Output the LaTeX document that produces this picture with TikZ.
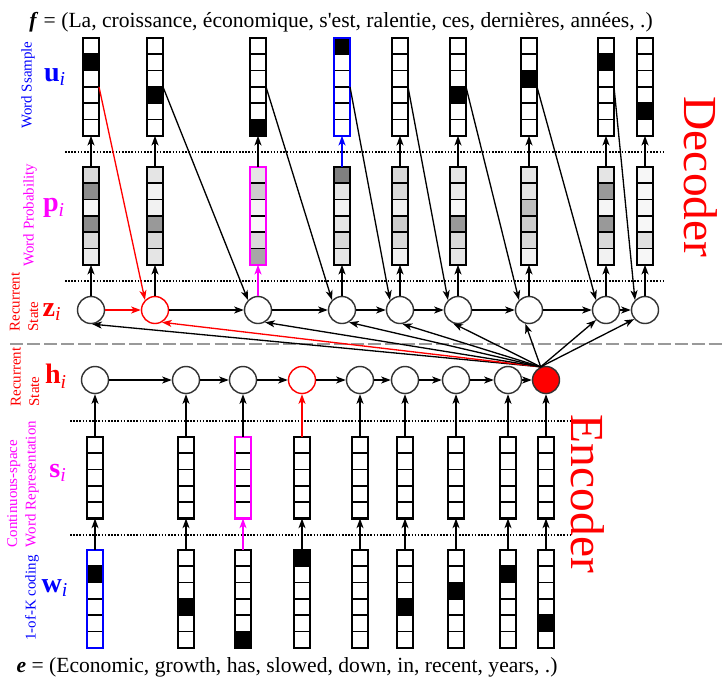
\documentclass[tikz,border=0pt]{standalone}
\usepackage{fontspec}
\setmainfont{Liberation Serif}
\usetikzlibrary{arrows.meta}

\definecolor{vivmag}{RGB}{255,0,255}
\definecolor{vivred}{RGB}{255,0,0}
\definecolor{vivblue}{RGB}{0,0,255}

\tikzset{
  cell/.style={draw, line width=0.95pt, minimum width=0.32cm, minimum height=0.326cm, inner sep=0pt, outer sep=0pt},
  state/.style={draw=black!80, circle, line width=0.8pt, minimum size=0.54cm, inner sep=0pt},
  link/.style={line width=0.75pt, -{Stealth[length=5.5pt,width=4pt,inset=1.5pt]}},
  layersep/.style={line width=0.9pt, dash pattern=on 0.9pt off 0.9pt},
  side/.style={font=\fontsize{8.5}{10.5}\selectfont, rotate=90, align=left, inner sep=0pt},
  sym/.style={font=\fontsize{16}{16}\selectfont\bfseries, inner sep=0pt},
  bigword/.style={font=\fontsize{27}{27}\selectfont, text=vivred, rotate=-90, inner sep=0pt},
  sentence/.style={font=\fontsize{12.3}{14}\selectfont, inner sep=0pt}
}

% one word vector: name, x, top, number of cells, border colour, cell shades
\newcommand{\wordvec}[6]{%
  \foreach \g [count=\k] in {#6}
    \node[cell, fill=black!\g] (#1-\k) at (#2, {#3+(\k-0.5)*16.3}) {};
  \draw[#5, line width=1.2pt] (#1-1.north west) rectangle (#1-#4.south east);
}

\begin{document}
\begin{tikzpicture}[x=0.02cm, y=-0.02cm]
\fill[white] (0,0) rectangle (723,677);
\useasboundingbox (0,0) rectangle (723,677);

\node[sentence] (ftext) at (341,22) {\textbf{\textit{f}} = (La, croissance, économique, s\textquotesingle est, ralentie, ces, dernières, années, .)};
\node[sentence] (etext) at (287,667) {\textbf{\textit{e}} = (Economic, growth, has, slowed, down, in, recent, years, .)};

\draw[black!40, line width=1.5pt, dash pattern=on 7.4pt off 2.3pt] (10,344) -- (723,344);
\draw[layersep] (65,152) -- (663,152);
\draw[layersep] (65,281) -- (663,281);
\draw[layersep] (70,421) -- (570,421);
\draw[layersep] (70,535) -- (570,535);

% decoder: sampled words
\wordvec{u1}{91}{38}{6}{black}{0,100,0,0,0,0}
\wordvec{u2}{155}{38}{6}{black}{0,0,0,100,0,0}
\wordvec{u3}{258}{38}{6}{black}{0,0,0,0,0,100}
\wordvec{u4}{342}{38}{6}{vivblue}{100,0,0,0,0,0}
\wordvec{u5}{400}{38}{6}{black}{0,0,0,0,0,0}
\wordvec{u6}{458}{38}{6}{black}{0,0,0,100,0,0}
\wordvec{u7}{529}{38}{6}{black}{0,0,100,0,0,0}
\wordvec{u8}{606}{38}{6}{black}{0,100,0,0,0,0}
\wordvec{u9}{645}{38}{6}{black}{0,0,0,0,100,0}

% decoder: word probabilities
\wordvec{p1}{91}{167}{6}{black}{15,45,3,45,15,8}
\wordvec{p2}{155}{167}{6}{black}{10,5,5,40,15,10}
\wordvec{p3}{258}{167}{6}{vivmag}{10,20,4,2,15,35}
\wordvec{p4}{342}{167}{6}{black}{50,10,5,10,15,10}
\wordvec{p5}{400}{167}{6}{black}{15,15,5,20,15,5}
\wordvec{p6}{458}{167}{6}{black}{10,8,3,40,15,10}
\wordvec{p7}{529}{167}{6}{black}{10,10,25,20,15,5}
\wordvec{p8}{606}{167}{6}{black}{10,40,4,40,15,5}
\wordvec{p9}{645}{167}{6}{black}{3,3,3,3,12,3}

% encoder: continuous-space words
\wordvec{s1}{95}{437}{5}{black}{0,0,0,0,0}
\wordvec{s2}{186}{437}{5}{black}{0,0,0,0,0}
\wordvec{s3}{243}{437}{5}{vivmag}{0,0,0,0,0}
\wordvec{s4}{302}{437}{5}{black}{0,0,0,0,0}
\wordvec{s5}{360}{437}{5}{black}{0,0,0,0,0}
\wordvec{s6}{405}{437}{5}{black}{0,0,0,0,0}
\wordvec{s7}{456}{437}{5}{black}{0,0,0,0,0}
\wordvec{s8}{508}{437}{5}{black}{0,0,0,0,0}
\wordvec{s9}{546}{437}{5}{black}{0,0,0,0,0}

% encoder: 1-of-K words
\wordvec{w1}{95}{550}{6}{vivblue}{0,100,0,0,0,0}
\wordvec{w2}{186}{550}{6}{black}{0,0,0,100,0,0}
\wordvec{w3}{243}{550}{6}{black}{0,0,0,0,0,100}
\wordvec{w4}{302}{550}{6}{black}{100,0,0,0,0,0}
\wordvec{w5}{360}{550}{6}{black}{0,0,0,0,0,0}
\wordvec{w6}{405}{550}{6}{black}{0,0,0,100,0,0}
\wordvec{w7}{456}{550}{6}{black}{0,0,100,0,0,0}
\wordvec{w8}{508}{550}{6}{black}{0,100,0,0,0,0}
\wordvec{w9}{546}{550}{6}{black}{0,0,0,0,100,0}

\node[state] (z1) at (91,310) {};
\node[state, draw=vivred] (z2) at (155,310) {};
\node[state] (z3) at (258,310) {};
\node[state] (z4) at (342,310) {};
\node[state] (z5) at (400,310) {};
\node[state] (z6) at (458,310) {};
\node[state] (z7) at (529,310) {};
\node[state] (z8) at (606,310) {};
\node[state] (z9) at (645,310) {};

\node[state] (h1) at (95,380) {};
\node[state] (h2) at (186,380) {};
\node[state] (h3) at (243,380) {};
\node[state, draw=vivred] (h4) at (302,380) {};
\node[state] (h5) at (360,380) {};
\node[state] (h6) at (405,380) {};
\node[state] (h7) at (456,380) {};
\node[state] (h8) at (508,380) {};
\node[state, fill=vivred] (h9) at (546,380) {};

\draw[link, vivred] (z1) -- (z2);
\foreach \a/\b in {2/3,3/4,4/5,5/6,6/7,7/8,8/9}
  \draw[link] (z\a) -- (z\b);
\foreach \a/\b in {1/2,2/3,3/4,4/5,5/6,6/7,7/8,8/9}
  \draw[link] (h\a) -- (h\b);

\foreach \i/\zc/\pc in {1/black/black,2/black/black,3/vivmag/black,4/black/vivblue,5/black/black,6/black/black,7/black/black,8/black/black,9/black/black} {
  \draw[link, \zc] (z\i) -- (p\i-6);
  \draw[link, \pc] (p\i-1) -- (u\i-6);
}
\foreach \i/\wc/\sc in {1/black/black,2/black/black,3/vivmag/black,4/black/vivred,5/black/black,6/black/black,7/black/black,8/black/black,9/black/black} {
  \draw[link, \wc] (w\i-1) -- (s\i-5);
  \draw[link, \sc] (s\i-1) -- (h\i);
}

\draw[link, vivred] (u1-4.north east) -- (z2.135);
\foreach \a/\b in {2/3,3/4,4/5,5/6,6/7,7/8,8/9}
  \draw[link] (u\a-4.north east) -- (z\b.135);

\coordinate (fan) at (h9.112);
\draw[link] (fan) -- (z1.-85);
\draw[link, vivred] (fan) -- (z2.-60);
\draw[link] (fan) -- (z3.-60);
\draw[link] (fan) -- (z4.-60);
\draw[link] (fan) -- (z5.-80);
\draw[link] (fan) -- (z6.-110);
\draw[link] (fan) -- (z7.-105);
\draw[link] (fan) -- (z8.-135);
\draw[link] (fan) -- (z9.-140);

\node[side, vivblue] (usample) at (28,85) {Word Ssample};
\node[sym, vivblue] (ulabel) at (55,77) {u\textsubscript{\textit{\mdseries i}}};
\node[side, vivmag] (pprob) at (30,215) {Word Probability};
\node[sym, vivmag] (plabel) at (54,208) {p\textsubscript{\textit{\mdseries i}}};
\node[side, vivred] (zrec) at (24,302) {Recurrent\\State};
\node[sym, vivred] (zlabel) at (52,312) {z\textsubscript{\textit{\mdseries i}}};
\node[side, vivred] (hrec) at (25,377) {Recurrent\\State};
\node[sym, vivred] (hlabel) at (56,376) {h\textsubscript{\textit{\mdseries i}}};
\node[side, vivmag] (srep) at (23,484) {Continuous-space\\Word Representation};
\node[sym, vivmag] (slabel) at (58,473) {s\textsubscript{\textit{\mdseries i}}};
\node[side, vivblue] (wcode) at (32,598) {1-of-K coding};
\node[sym, vivblue] (wlabel) at (55,588) {w\textsubscript{\textit{\mdseries i}}};

\node[bigword] (declabel) at (701,177) {Decoder};
\node[bigword] (enclabel) at (588,494) {Encoder};
\end{tikzpicture}
\end{document}
